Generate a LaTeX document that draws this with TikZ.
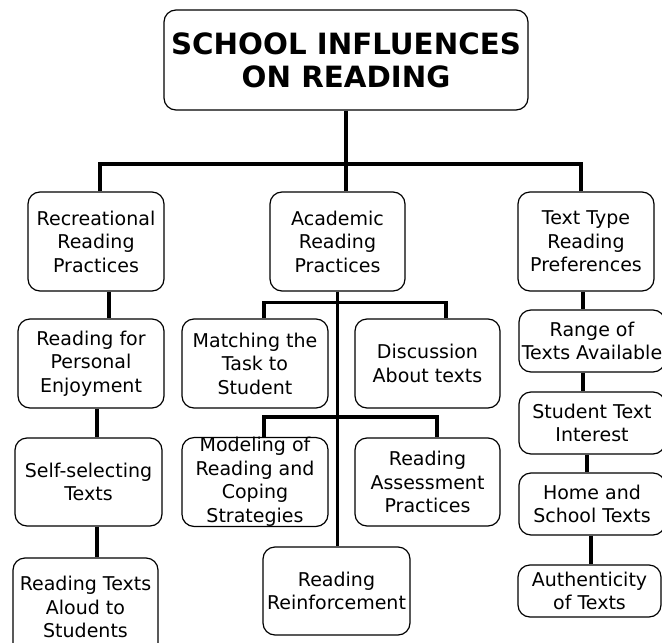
\documentclass[tikz,border=0pt]{standalone}
\usepackage{fontspec}
\setmainfont{DejaVu Sans}
\usepackage{tikz}
\tikzstyle{box} = [rectangle, rounded corners=12pt, inner sep=0pt, align=center, draw=black, line width=1.2pt, font=\fontsize{19}{23.5}\selectfont]
\tikzstyle{titlebox} = [box, font=\bfseries\fontsize{29.3}{33}\selectfont]
\tikzstyle{link} = [line width=3.8pt]

\begin{document}
\begin{tikzpicture}[x=1pt, y=-1pt]
      \useasboundingbox (0,0) rectangle (662,643);
      \node (title) [titlebox, minimum width=364pt, minimum height=100pt] at (346,60) {SCHOOL INFLUENCES\\ON READING};

      \node (rec) [box, minimum width=136pt, minimum height=99pt] at (96,241.5) {Recreational\\Reading\\Practices};
      \node (aca) [box, minimum width=135pt, minimum height=99pt] at (337.5,241.5) {Academic\\Reading\\Practices};
      \node (txt) [box, minimum width=136pt, minimum height=99pt] at (586,241.5) {Text Type\\Reading\\Preferences};

      \node (enjoy) [box, minimum width=146pt, minimum height=89pt] at (91,363.5) {Reading for\\Personal\\Enjoyment};
      \node (selfsel) [box, minimum width=147pt, minimum height=88pt] at (88.5,482) {Self-selecting\\Texts};
      \node (aloud) [box, minimum width=145pt, minimum height=98pt] at (85.5,607) {Reading Texts\\Aloud to\\Students};

      \node (match) [box, minimum width=146pt, minimum height=89pt] at (255,363.5) {Matching the\\Task to\\Student};
      \node (discuss) [box, minimum width=145pt, minimum height=89pt] at (427.5,363.5) {Discussion\\About texts};
      \node (model) [box, minimum width=146pt, minimum height=88pt] at (255,482) {Modeling of\\Reading and\\Coping\\Strategies};
      \node (assess) [box, minimum width=145pt, minimum height=88pt] at (427.5,482) {Reading\\Assessment\\Practices};
      \node (reinf) [box, minimum width=147pt, minimum height=88pt] at (336.5,591) {Reading\\Reinforcement};

      \node (range) [box, minimum width=146pt, minimum height=62pt] at (592,341) {Range of\\Texts Available};
      \node (interest) [box, minimum width=146pt, minimum height=62pt] at (592,423) {Student Text\\Interest};
      \node (homesch) [box, minimum width=146pt, minimum height=62pt] at (592,504) {Home and\\School Texts};
      \node (authentic) [box, minimum width=143pt, minimum height=52pt] at (589.5,591) {Authenticity\\of Texts};

      % top level
      \coordinate (bar) at (346,164);
      \draw[link] (title.south) -- (title.south |- aca.north);
      \draw[link] ([xshift=4pt]rec.north) |- (bar) -| ([xshift=-5pt]txt.north);

      % recreational column
      \draw[link] ([xshift=13pt]rec.south) -- ([xshift=13pt]rec.south |- enjoy.north);
      \draw[link] ([xshift=6pt]enjoy.south) -- ([xshift=6pt]enjoy.south |- selfsel.north);
      \draw[link] ([xshift=8.5pt]selfsel.south) -- ([xshift=8.5pt]selfsel.south |- aloud.north);

      % academic column
      \draw[link] (aca.south) -- (aca.south |- reinf.north);
      \draw[link] ([xshift=9pt]match.north) -- ++(0,-16) -| ([xshift=18.5pt]discuss.north);
      \draw[link] ([xshift=9pt]model.north) -- ++(0,-20) -| ([xshift=9.5pt]assess.north);

      % text type column
      \draw[link] ([xshift=-3pt]txt.south) -- ([xshift=-3pt]txt.south |- range.north);
      \draw[link] ([xshift=-9pt]range.south) -- ([xshift=-9pt]range.south |- interest.north);
      \draw[link] ([xshift=-5pt]interest.south) -- ([xshift=-5pt]interest.south |- homesch.north);
      \draw[link] ([xshift=-1pt]homesch.south) -- ([xshift=-1pt]homesch.south |- authentic.north);
    \end{tikzpicture}
\end{document}
